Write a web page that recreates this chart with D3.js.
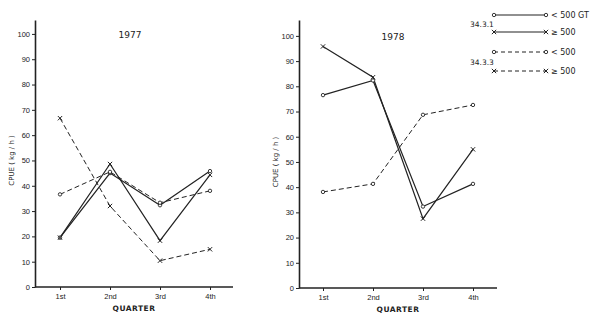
<!DOCTYPE html>
<html>
<head>
<meta charset="utf-8">
<script src="https://cdn.jsdelivr.net/npm/d3@7"></script>
<style>
  body { margin: 0; background: #fff; }
  svg { font-family: "DejaVu Sans", sans-serif; }
</style>
</head>
<body>
<svg id="chart" width="600" height="321"></svg>
<script>
// data
const quarters = ["1st", "2nd", "3rd", "4th"]
const yTicks = [0, 10, 20, 30, 40, 50, 60, 70, 80, 90, 100]

const lt500_1977 = [19.5, 45, 32.3, 45.8]
const ge500_1977 = [19.5, 48.6, 18.3, 44.3]
const lt500b_1977 = [36.6, 45.5, 33.3, 38]
const ge500b_1977 = [66.7, 32, 10.4, 14.9]

const lt500_1978 = [76.5, 82.3, 32.3, 41.3]
const ge500_1978 = [95.8, 83.6, 27.5, 55]
const lt500b_1978 = [38.1, 41.3, 68.7, 72.6]

const legendLabels = ["< 500 GT", "≥ 500", "< 500", "≥ 500"]
const areaLabels = ["34.3.1", "34.3.3"]

const ink = "#222"
const svg = d3.select("#chart")

const panels = [
  {title: "1977", xr: [60, 210], axisX: [35, 233], yr: [287, 20], ytop: 105.5,
   series: [
     {v: lt500_1977, dash: null, mark: "o"},
     {v: ge500_1977, dash: null, mark: "x"},
     {v: lt500b_1977, dash: "5,3", mark: "o"},
     {v: ge500b_1977, dash: "5,3", mark: "x"}
   ]},
  {title: "1978", xr: [323, 473], axisX: [299, 497], yr: [288, 20], ytop: 106.3,
   series: [
     {v: lt500_1978, dash: null, mark: "o"},
     {v: ge500_1978, dash: null, mark: "x"},
     {v: lt500b_1978, dash: "5,3", mark: "o"}
   ]}
]

function drawMark(g, kind, cx, cy) {
  if (kind == "o") {
    g.append("circle").attr("cx", cx).attr("cy", cy).attr("r", 1.7)
      .attr("fill", "#fff").attr("stroke", ink).attr("stroke-width", 0.9)
  } else {
    g.append("path").attr("d", d3.symbol(d3.symbolX, 14)())
      .attr("transform", "translate(" + cx + "," + cy + ")")
      .attr("fill", "none").attr("stroke", ink).attr("stroke-width", 1)
  }
}

panels.forEach(p => {
  const x = d3.scalePoint().domain(quarters).range(p.xr)
  const y = d3.scaleLinear().domain([0, p.ytop]).range(p.yr)
  const g = svg.append("g")

  // y axis
  const ya = g.append("g").attr("transform", "translate(" + p.axisX[0] + ",0)")
    .call(d3.axisLeft(y).tickValues(yTicks).tickSize(3).tickSizeOuter(0).tickPadding(2))
  ya.select(".domain").attr("stroke", ink).attr("stroke-width", 1.6)
  ya.selectAll(".tick line").attr("stroke", ink)
  ya.selectAll("text").attr("font-size", 7.5).attr("fill", ink)

  // x axis
  const xa = g.append("g").attr("transform", "translate(0," + y(0) + ")")
    .call(d3.axisBottom(x).tickSize(3).tickSizeOuter(0).tickPadding(4))
  xa.select(".domain").attr("d", "M" + p.axisX[0] + ",0H" + p.axisX[1])
    .attr("stroke", ink).attr("stroke-width", 1.6)
  xa.selectAll(".tick line").attr("stroke", ink)
  xa.selectAll("text").attr("font-size", 7.5).attr("fill", ink)

  g.append("text").attr("x", (p.axisX[0] + p.axisX[1]) / 2).attr("y", y(0) + 24)
    .attr("text-anchor", "middle").attr("font-size", 7.5).attr("font-weight", "bold")
    .attr("fill", ink).attr("letter-spacing", 0.5).text("QUARTER")

  g.append("text").attr("x", p.axisX[0] - 21).attr("y", y(50))
    .attr("transform", "rotate(-90," + (p.axisX[0] - 21) + "," + y(50) + ")")
    .attr("text-anchor", "middle").attr("font-size", 7).attr("fill", ink)
    .text("CPUE  ( kg / h )")

  g.append("text").attr("x", x("1st") + 70).attr("y", y(100) + 4)
    .attr("text-anchor", "middle").attr("font-size", 9).attr("fill", ink).text(p.title)

  const line = d3.line().x((d, i) => x(quarters[i])).y(d => y(d))
  p.series.forEach(s => {
    g.append("path").datum(s.v).attr("d", line).attr("fill", "none")
      .attr("stroke", ink).attr("stroke-width", s.dash ? 1 : 1.2)
      .attr("stroke-dasharray", s.dash)
  })
  p.series.forEach(s => {
    s.v.forEach((d, i) => drawMark(g, s.mark, x(quarters[i]), y(d)))
  })
})

// legend
const leg = svg.append("g")
const legRows = [
  {y: 15, dash: null, mark: "o"},
  {y: 32, dash: null, mark: "x"},
  {y: 52, dash: "4,3", mark: "o"},
  {y: 71, dash: "4,3", mark: "x"}
]
legRows.forEach((r, i) => {
  leg.append("line").attr("x1", 494).attr("x2", 546).attr("y1", r.y).attr("y2", r.y)
    .attr("stroke", ink).attr("stroke-width", r.dash ? 1 : 1.2).attr("stroke-dasharray", r.dash)
  drawMark(leg, r.mark, 494, r.y)
  drawMark(leg, r.mark, 546, r.y)
  leg.append("text").attr("x", 551).attr("y", r.y + 3).attr("font-size", 8)
    .attr("fill", ink).text(legendLabels[i])
})
leg.append("text").attr("x", 470).attr("y", 27).attr("font-size", 7.5).attr("fill", ink).text(areaLabels[0])
leg.append("text").attr("x", 470).attr("y", 65).attr("font-size", 7.5).attr("fill", ink).text(areaLabels[1])
</script>
</body>
</html>
